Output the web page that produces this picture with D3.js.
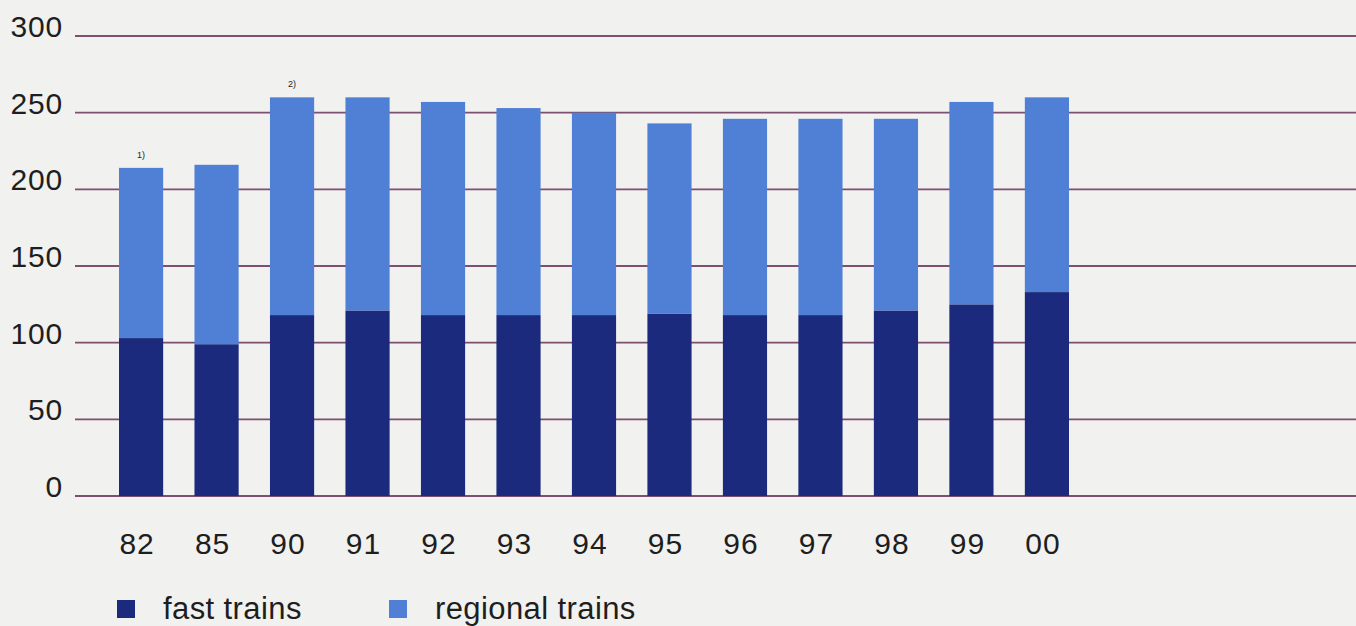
<!DOCTYPE html>
<html><head><meta charset="utf-8">
<script src="https://cdn.jsdelivr.net/npm/d3@7"></script>
<style>
html,body{margin:0;padding:0;background:#f1f1ef;}
svg{display:block;}
text{font-family:"Liberation Sans",Arial,Helvetica,sans-serif;fill:#1e1e1e;}
</style></head>
<body>
<svg id="chart" width="1356" height="626"></svg>
<script>
const years = ["82","85","90","91","92","93","94","95","96","97","98","99","00"];
const fastTrains = [103, 99, 118, 121, 118, 118, 118, 119, 118, 118, 121, 125, 133];
const regionalTrains = [111, 117, 142, 139, 139, 135, 132, 124, 128, 128, 125, 132, 127];
const yTicks = [0, 50, 100, 150, 200, 250, 300];
const footnotes = [{year:"82", text:"1)"}, {year:"90", text:"2)"}];
const seriesNames = ["fast trains", "regional trains"];
const colors = ["#1b2a7c", "#4f80d6"];

const svg = d3.select("#chart");
const x = d3.scaleBand().domain(years).range([119, 1069]).paddingInner(0.415).paddingOuter(0);
const y = d3.scaleLinear().domain([0, 300]).range([496, 36]);

// gridlines
svg.append("g").selectAll("line").data(yTicks).join("line")
  .attr("x1", 75).attr("x2", 1356)
  .attr("y1", d => y(d)).attr("y2", d => y(d))
  .attr("stroke", "#7d4f70").attr("stroke-width", 1.8);

// y labels
svg.append("g").selectAll("text").data(yTicks).join("text")
  .attr("x", 63).attr("y", d => y(d) + 1)
  .attr("text-anchor", "end")
  .style("font-size", "30px").style("letter-spacing", "0.8px")
  .text(d => d);

// stacked bars
const table = years.map((yr, i) => ({year: yr, fast: fastTrains[i], regional: regionalTrains[i]}));
const stack = d3.stack().keys(["fast", "regional"])(table);
svg.append("g").selectAll("g").data(stack).join("g")
  .attr("fill", (d, i) => colors[i])
  .selectAll("rect").data(d => d).join("rect")
  .attr("x", d => x(d.data.year))
  .attr("width", x.bandwidth())
  .attr("y", d => y(d[1]))
  .attr("height", d => y(d[0]) - y(d[1]));

// x labels
svg.append("g").selectAll("text").data(years).join("text")
  .attr("x", d => x(d) + x.bandwidth() / 2 - 4)
  .attr("y", 554)
  .attr("text-anchor", "middle")
  .style("font-size", "30px").style("letter-spacing", "1px")
  .text(d => d);

// footnotes
svg.append("g").selectAll("text").data(footnotes).join("text")
  .attr("x", d => x(d.year) + x.bandwidth() / 2)
  .attr("y", d => y(fastTrains[years.indexOf(d.year)] + regionalTrains[years.indexOf(d.year)]) - 10)
  .attr("text-anchor", "middle")
  .style("font-size", "9px")
  .text(d => d.text);

// legend
const legendX = [117, 389];
const lg = svg.append("g").selectAll("g").data(seriesNames).join("g")
  .attr("transform", (d, i) => `translate(${legendX[i]},0)`);
lg.append("rect").attr("x", 0).attr("y", 600).attr("width", 18).attr("height", 18)
  .attr("fill", (d, i) => colors[i]);
lg.append("text").attr("x", 46).attr("y", 619)
  .style("font-size", "31px").style("letter-spacing", "0.4px")
  .text(d => d);
</script>
</body></html>
